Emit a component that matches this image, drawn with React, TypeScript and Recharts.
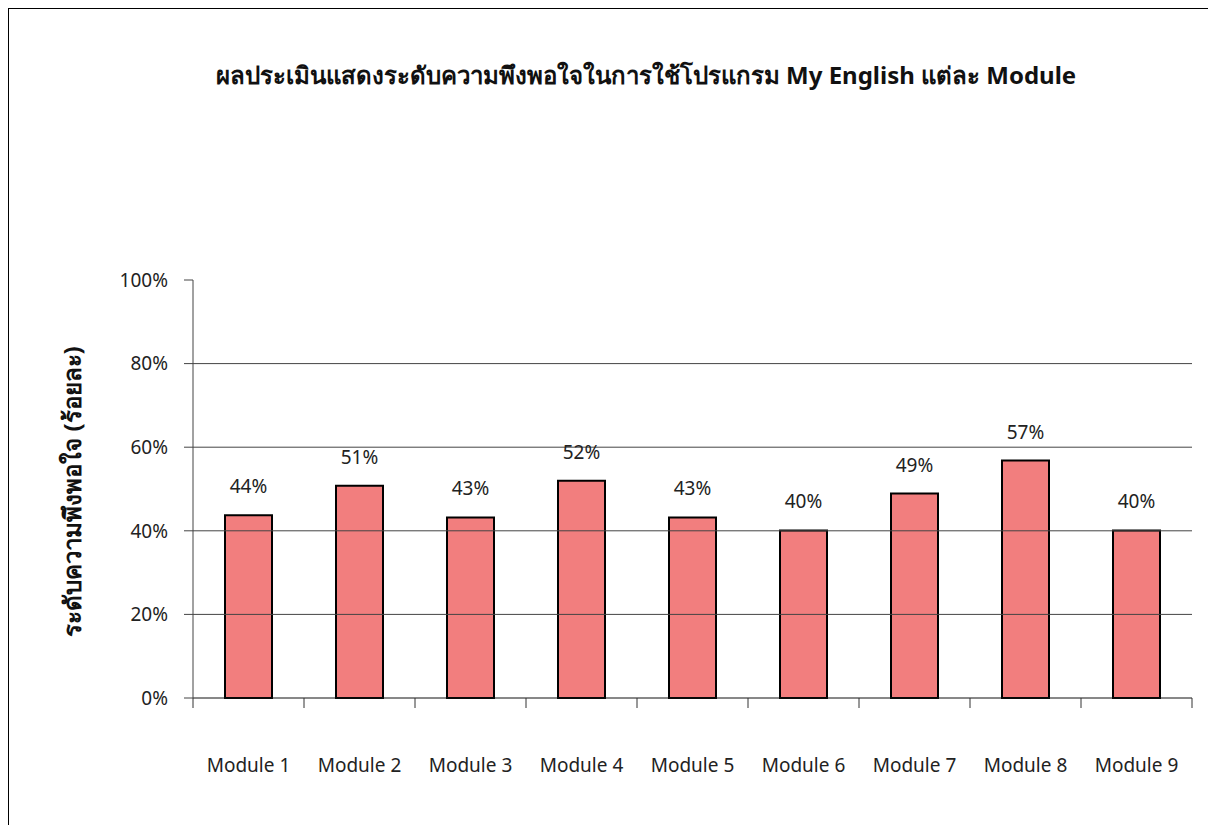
import { BarChart, Bar, XAxis, YAxis, ReferenceLine, LabelList } from "recharts";

const modules = [
  "Module 1",
  "Module 2",
  "Module 3",
  "Module 4",
  "Module 5",
  "Module 6",
  "Module 7",
  "Module 8",
  "Module 9",
];

const satisfaction = [0.437, 0.508, 0.432, 0.52, 0.432, 0.401, 0.489, 0.568, 0.401];

const yTicks = [0, 0.2, 0.4, 0.6, 0.8, 1];
const gridLines = [0.2, 0.4, 0.6, 0.8];

const title = "ผลประเมินแสดงระดับความพึงพอใจในการใช้โปรแกรม My English แต่ละ Module";
const yTitle = "ระดับความพึงพอใจ (ร้อยละ)";

const data = modules.map((name, i) => ({ name, value: satisfaction[i] }));

const FONT = "'Noto Sans', 'DejaVu Sans', sans-serif";
const PLOT_W = 999;
const STEP = PLOT_W / modules.length;

const pct = (v: number) => `${Math.round(v * 100)}%`;

// ticks sit between categories, like the Excel original
function ModuleTick(props: any) {
  const { x, y, payload, index } = props;
  return (
    <g>
      <line x1={x - STEP / 2} x2={x - STEP / 2} y1={y} y2={y + 10} stroke="#333" />
      {index === modules.length - 1 && (
        <line x1={x + STEP / 2} x2={x + STEP / 2} y1={y} y2={y + 10} stroke="#333" />
      )}
      <text x={x} y={y + 74} textAnchor="middle" fontSize={19} fill="#222" fontFamily={FONT}>
        {payload.value}
      </text>
    </g>
  );
}

export default function App() {
  return (
    <div
      style={{
        position: "fixed",
        left: 8,
        top: 8,
        width: 1210,
        height: 830,
        borderLeft: "1px solid #000",
        borderTop: "1px solid #000",
        fontFamily: FONT,
        background: "#fff",
        overflow: "hidden",
      }}
    >
      <div
        style={{
          position: "absolute",
          left: 0,
          width: 1274,
          top: 47,
          textAlign: "center",
          fontSize: 24,
          fontWeight: "bold",
          color: "#111",
        }}
      >
        {title}
      </div>
      <div
        style={{
          position: "absolute",
          left: 63 - 200,
          top: 479 - 16,
          width: 400,
          textAlign: "center",
          fontSize: 24,
          fontWeight: "bold",
          color: "#111",
          transform: "rotate(-90deg)",
        }}
      >
        {yTitle}
      </div>
      <BarChart
        width={1191}
        height={808}
        data={data}
        margin={{ top: 271, right: 8, left: 114, bottom: 39 }}
        style={{ position: "absolute", left: 0, top: 0 }}
      >
        {gridLines.map((g) => (
          <ReferenceLine key={g} y={g} stroke="#444" strokeWidth={1} />
        ))}
        <XAxis
          dataKey="name"
          height={80}
          axisLine={{ stroke: "#111" }}
          tickLine={false}
          tickSize={0}
          tickMargin={0}
          interval={0}
          tick={<ModuleTick />}
        />
        <YAxis
          width={70}
          domain={[0, 1]}
          ticks={yTicks}
          tickFormatter={pct}
          axisLine={{ stroke: "#444" }}
          tickLine={{ stroke: "#444" }}
          tickSize={9}
          tickMargin={16}
          tick={{ fontSize: 19, fill: "#222", fontFamily: FONT }}
        />
        <Bar
          dataKey="value"
          fill="#F27E7E"
          stroke="#000"
          strokeWidth={2}
          barSize={47}
          isAnimationActive={false}
        >
          <LabelList
            dataKey="value"
            position="top"
            offset={22}
            formatter={(v: any) => pct(Number(v))}
            style={{ fontSize: 19, fill: "#222", fontFamily: FONT }}
          />
        </Bar>
      </BarChart>
    </div>
  );
}
